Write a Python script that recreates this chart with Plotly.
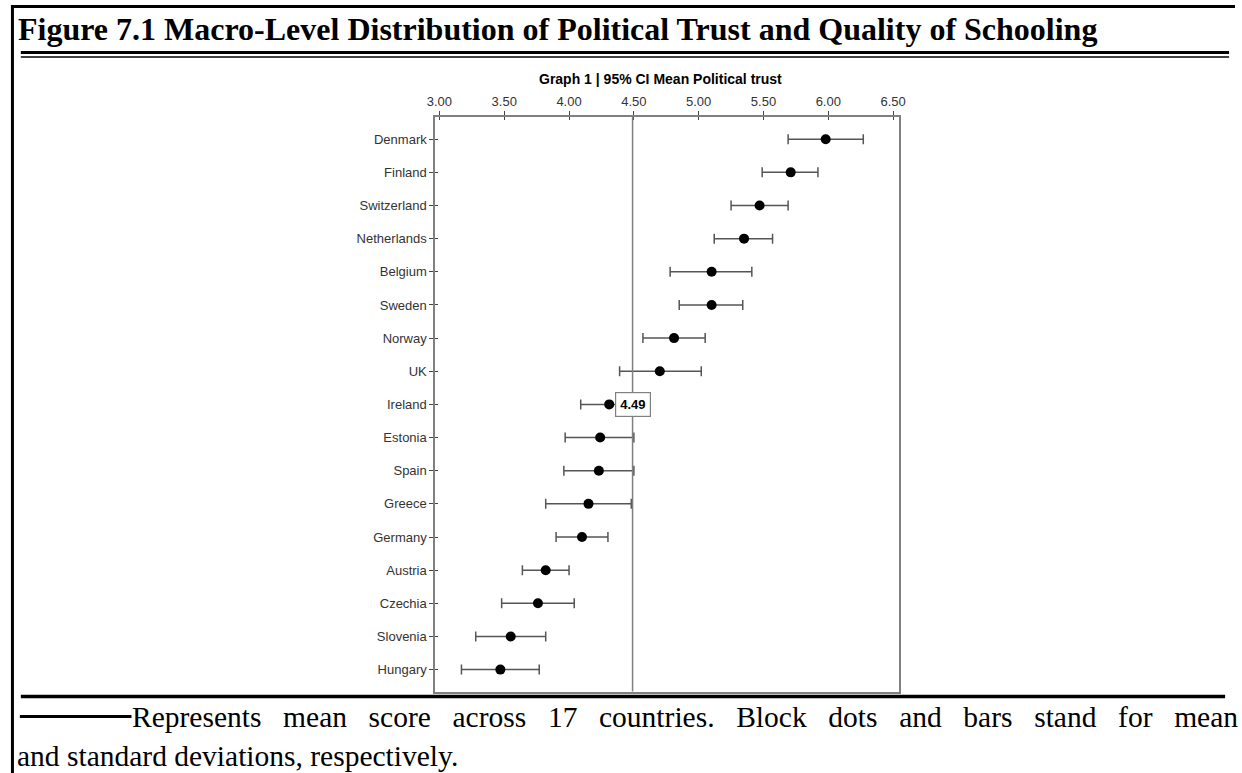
import plotly.graph_objects as go

W, H = 1242, 773

countries = ['Denmark', 'Finland', 'Switzerland', 'Netherlands', 'Belgium', 'Sweden',
             'Norway', 'UK', 'Ireland', 'Estonia', 'Spain', 'Greece', 'Germany',
             'Austria', 'Czechia', 'Slovenia', 'Hungary']
means = [5.98, 5.71, 5.47, 5.35, 5.10, 5.10, 4.81, 4.70, 4.31, 4.24, 4.23,
         4.15, 4.10, 3.82, 3.76, 3.55, 3.47]
lower = [5.69, 5.49, 5.25, 5.12, 4.78, 4.85, 4.57, 4.39, 4.09, 3.97, 3.96,
         3.82, 3.90, 3.64, 3.48, 3.28, 3.17]
upper = [6.27, 5.92, 5.69, 5.57, 5.41, 5.34, 5.05, 5.02, 4.53, 4.50, 4.50,
         4.48, 4.30, 4.00, 4.04, 3.82, 3.77]
grand_mean = 4.49
x_ticks = [3.0, 3.5, 4.0, 4.5, 5.0, 5.5, 6.0, 6.5]

_AXIS = '#808080'
_BAR = '#555555'
_TXT = '#333333'
_SERIF = 'Liberation Serif, Times New Roman, serif'
_SANS = 'Liberation Sans, Arial, sans-serif'

note_1 = 'Represents mean score across 17 countries. Block dots and bars stand for mean'
note_2 = 'and standard deviations, respectively.'
# first note line is justified in the source document: widen each word gap (~0.73em)
_JUSTIFY_GAP = '\u2004\u2009\u2009'


def px(x):
    return x / W


def py(y):
    return 1 - y / H


def hline(x0, x1, y, width, color='black'):
    return dict(type='line', xref='paper', yref='paper', x0=px(x0), x1=px(x1),
                y0=py(y), y1=py(y), line=dict(color=color, width=width))


def vline(x, y0, y1, width, color='black'):
    return dict(type='line', xref='paper', yref='paper', x0=px(x), x1=px(x),
                y0=py(y0), y1=py(y1), line=dict(color=color, width=width))


def note_text(x, y, text):
    return dict(text=text, xref='paper', yref='paper', x=px(x), y=py(y),
                xanchor='left', yanchor='middle', showarrow=False,
                font=dict(family=_SERIF, size=29.5, color='black'))


fig = go.Figure()
fig.add_trace(go.Scatter(
    x=means,
    y=countries,
    mode='markers',
    marker=dict(color='black', size=10),
    error_x=dict(
        type='data',
        symmetric=False,
        array=[h - m for h, m in zip(upper, means)],
        arrayminus=[m - l for m, l in zip(means, lower)],
        color=_BAR,
        thickness=1.5,
        width=5,
    ),
    showlegend=False,
))
# overlay axes: only for the inward half of the crossing tick marks
fig.add_trace(go.Scatter(x=[None] * len(countries), y=countries, xaxis='x2', yaxis='y2',
                         mode='markers', showlegend=False, hoverinfo='skip'))

tick_style = dict(tickwidth=1.2, tickcolor='#444', showgrid=False, zeroline=False)

fig.update_layout(
    width=W,
    height=H,
    margin=dict(l=0, r=0, t=0, b=0),
    paper_bgcolor='white',
    plot_bgcolor='white',
    xaxis=dict(
        domain=[px(432.3), px(901.7)],
        range=[2.9665, 6.544],
        side='top',
        tickvals=x_ticks,
        ticktext=['%.2f' % v for v in x_ticks],
        ticks='outside', ticklen=4,
        showline=True, linecolor=_AXIS, linewidth=1.5, mirror=True,
        tickfont=dict(family=_SANS, size=13, color=_TXT),
        **tick_style,
    ),
    xaxis2=dict(
        overlaying='x', matches='x', side='top', anchor='y2',
        tickvals=x_ticks, ticks='inside', ticklen=3,
        showticklabels=False, showline=False,
        **tick_style,
    ),
    yaxis=dict(
        domain=[py(691.5), py(116.5)],
        type='category',
        categoryorder='array',
        categoryarray=countries,
        range=[16.66, -0.685],
        ticks='outside', ticklen=4,
        showline=True, linecolor=_AXIS, linewidth=1.5, mirror=True,
        tickfont=dict(family=_SANS, size=13, color=_TXT),
        **tick_style,
    ),
    yaxis2=dict(
        overlaying='y', matches='y', anchor='x2', type='category',
        categoryorder='array', categoryarray=countries,
        ticks='inside', ticklen=3,
        showticklabels=False, showline=False,
        **tick_style,
    ),
    shapes=[
        dict(type='line', xref='x', yref='y domain', x0=grand_mean, x1=grand_mean,
             y0=0, y1=1, line=dict(color=_AXIS, width=1.5)),
        # page frame
        hline(3, W, 6.5, 3),
        vline(4.5, 5, H, 3),
        hline(13, 1236, 52.5, 3),
        hline(13, 1236, 57, 1.5),
        hline(13, 1232, 696.5, 3.5),
        hline(12, 125, 716.5, 3),
    ],
    annotations=[
        dict(text='<b>Figure 7.1 Macro-Level Distribution of Political Trust and Quality of Schooling</b>',
             xref='paper', yref='paper', x=px(8), y=py(29), xanchor='left', yanchor='middle',
             showarrow=False, font=dict(family=_SERIF, size=32, color='black')),
        dict(text='<b>Graph 1 | 95% CI Mean Political trust</b>',
             xref='paper', yref='paper', x=px(660), y=py(79), xanchor='center', yanchor='middle',
             showarrow=False, font=dict(family=_SANS, size=14, color='black')),
        dict(text='<b>4.49</b>', x=grand_mean, y='Ireland', xref='x', yref='y',
             showarrow=False, bgcolor='white', bordercolor=_AXIS, borderwidth=1.2, borderpad=4,
             font=dict(family=_SANS, size=13, color='black')),
        note_text(123, 717, _JUSTIFY_GAP.join(note_1.split(' '))),
        note_text(7, 756, note_2),
    ],
)

fig.write_html('out.html', config={'displayModeBar': False},
               post_script="document.body.style.margin='0';")
